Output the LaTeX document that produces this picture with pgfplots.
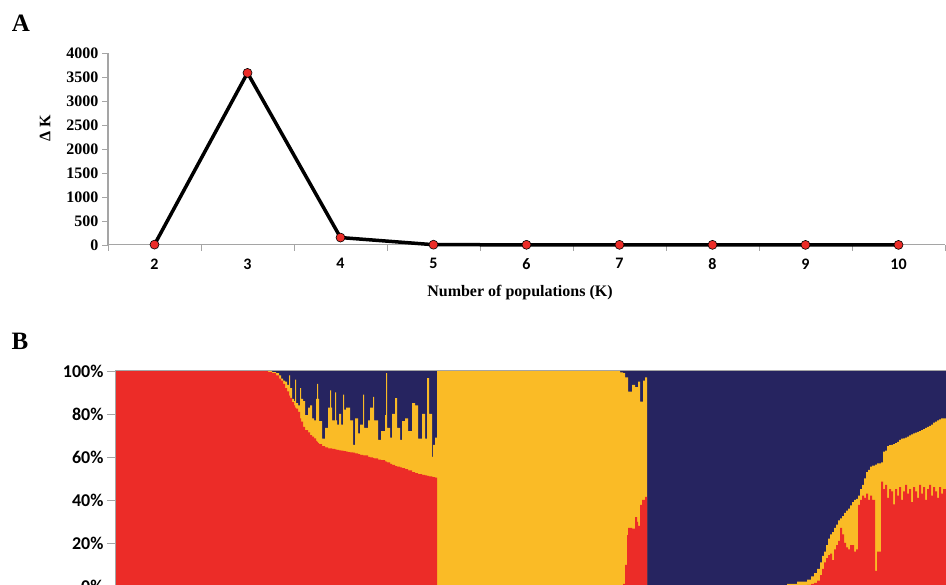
\documentclass[border=0pt]{standalone}
\usepackage{fontspec}
\setmainfont{Liberation Serif}
\newfontfamily\calib{Carlito}
\usepackage{pgfplots}
\usepackage{pgfplotstable}
\pgfplotsset{compat=1.18}
\definecolor{sred}{RGB}{236,44,40}
\definecolor{syel}{RGB}{250,187,38}
\definecolor{snavy}{RGB}{38,36,96}
\definecolor{axgray}{RGB}{165,165,165}

\pgfplotstableread{
x R T
115 100 100
268 99.5 100
272 99 99.5
276 98 99
279 96.5 98
281 95.5 96.5
283 94 95.5
285 92 95
287 90.5 93.5
289 88.5 98
290 87.5 92
292 85.5 87
294 84 86
295 83 96
296 82.5 85
298 81 84
300 78 92
301 76.5 87
303 74 86
305 72.5 79.5
308 71.5 83
310 70.2 84
312 69.5 78
314 68.7 77
316 67.5 87
317 67 94
318 66.5 87
319 66 76.7
322 65 68.5
325 64.5 73.5
328 64 83
330 64 91
331 64 83
332 63.8 77
335 63.5 90
336 63.4 77
337 63.3 75
339 63.1 80
341 63 75
343 62.8 89
344 62.7 82
346 62.5 83
348 62.3 83
350 62.2 77
353 62 65.6
355 61.7 78
358 61.3 71
360 61 75
363 60.8 89
364 60.7 73.5
368 60 77
370 59.8 83
373 59.5 88
374 59.4 77
378 58.8 68
381 58.5 72
385 58 79.5
386 57.8 99
387 57.5 73.5
390 56.8 69
392 56.3 80
395 55.8 87.4
397 55.5 73.5
400 55.2 68
402 54.8 76.7
405 54.3 78
408 53.8 72
412 53 85
415 52.5 84
418 52 68.5
422 51.7 80
425 51.4 68.5
427 51.2 96.7
429 51 80
432 50.8 60
433 50.6 65.6
435 50.4 69
437 0 100
620 0 99.3
623 1 99
625 9.8 97
627 23.7 97
628 27 90.4
632 26.7 93.5
635 32 92.5
637 29.8 92.5
638 28 95
640 37.7 85.7
642 40 85.7
643 40 95.5
645 41.5 97
647 0 0
787 0 1
797 0 2
807 0.5 3
811 1 4.5
814 1.5 6
817 2.5 8
820 5 11
822 8 14
824 11 16
826 13 19
828 14.4 22
830 15 24
832 12 25
834 17 27
836 19 28.5
838 21 30.5
840 27 31.5
842 24 32.5
844 20 34
846 18 35
848 17 36
850 19 37.5
852 19 39
854 16 40
856 17 40.5
858 37.7 42
860 40 45
862 42 47
864 41 50
866 43 53
868 40 54
870 42 55.5
872 40 56
875 7 56.5
877 16 57
879 16 57
881 48.5 57.5
883 45 62.5
885 47 63
887 41 65
889 45 65.5
891 44 65.6
893 38 66
895 45 66.5
897 42 67
899 46 68
901 40 68.5
903 44 68.7
905 47 69
907 43 69.5
909 45 70
911 39 70.5
913 46 71
915 44 71.3
917 41 71.7
919 47 72
921 43 72.5
923 46 73
925 40 73.5
927 45 74
929 47 74.5
931 42 75
933 46 76
935 44 76.5
937 41 77
939 46 77.5
941 43 78
943 45 78
946 45 78
}\dataB

\begin{document}
\begin{tikzpicture}
\useasboundingbox (0pt,0pt) rectangle (946pt,585pt);
\clip (0pt,0pt) rectangle (946pt,585pt);
\node[font=\fontsize{25}{25}\selectfont\bfseries] at (21pt,562pt) {A};
\node[font=\fontsize{25}{25}\selectfont\bfseries] at (20pt,244pt) {B};
\node[font=\fontsize{16}{16}\selectfont\bfseries, rotate=90] at (45pt,457pt) {Δ K};
\node[font=\fontsize{16}{16}\selectfont\bfseries] at (520pt,292pt) {Number of populations (K)};

\begin{axis}[
  at={(108pt,340pt)}, anchor=south west, scale only axis,
  width=837pt, height=192pt,
  xmin=1.5, xmax=10.5, ymin=0, ymax=4000,
  axis x line=bottom, axis y line=left,
  axis line style={axgray, line width=1pt, -},
  xtick={1.5,2.5,...,10.5},
  x tick label as interval,
  xticklabels={2,3,4,5,6,7,8,9,10},
  ytick={0,500,...,4000},
  tick align=outside, major tick length=6pt,
  tick style={axgray, line width=0.8pt},
  /pgf/number format/assume math mode=true,
  /pgf/number format/1000 sep={},
  scaled y ticks=false,
  yticklabel style={font=\fontsize{16}{16}\selectfont\bfseries},
  xticklabel style={font=\calib\fontsize{16}{16}\selectfont\bfseries, yshift=-4pt},
  clip=false,
]
\addplot[black, line width=3.5pt, line join=round, mark=*, mark size=4.5pt,
  mark options={fill=sred, draw=black, line width=0.6pt}]
  coordinates {(2,8) (3,3585) (4,155) (5,6) (6,4) (7,3) (8,3) (9,2) (10,2)};
\end{axis}

\begin{axis}[
  at={(115pt,-1pt)}, anchor=south west, scale only axis,
  width=831pt, height=215pt,
  xmin=115, xmax=946, ymin=0, ymax=100,
  axis y line=left, axis x line=top,
  axis line style={axgray, line width=1pt, -},
  axis on top,
  xtick=\empty,
  ytick={0,20,40,60,80,100},
  yticklabels={0\%,20\%,40\%,60\%,80\%,100\%},
  tick align=outside, major tick length=8pt,
  tick style={axgray, line width=0.8pt},
  yticklabel style={font=\calib\fontsize{18}{18}\selectfont\bfseries},
]
\addplot[fill=snavy, draw=none] coordinates {(115,100) (946,100)} \closedcycle;
\addplot[fill=syel, draw=none, const plot mark left] table[x=x, y=T] {\dataB} \closedcycle;
\addplot[fill=sred, draw=none, const plot mark left] table[x=x, y=R] {\dataB} \closedcycle;
\end{axis}
\end{tikzpicture}
\end{document}
